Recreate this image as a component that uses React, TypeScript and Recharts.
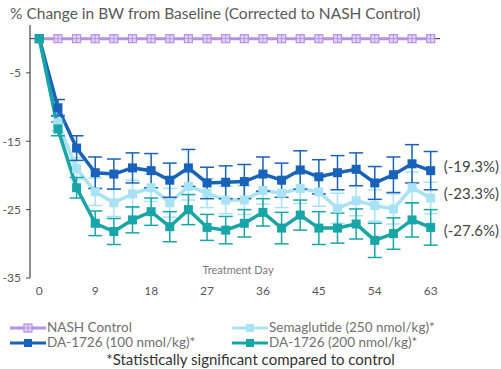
import React from 'react';
import { LineChart, Line, XAxis, YAxis, ErrorBar, ReferenceLine } from 'recharts';

// days measured (every 3rd day)
const days = [0, 3, 6, 9, 12, 15, 18, 21, 24, 27, 30, 33, 36, 39, 42, 45, 48, 51, 54, 57, 60, 63];

const nashControl = [0, 0, 0, 0, 0, 0, 0, 0, 0, 0, 0, 0, 0, 0, 0, 0, 0, 0, 0, 0, 0, 0];
const semaglutide = [0, -12.3, -19.0, -22.4, -24.0, -22.7, -21.8, -24.0, -21.6, -22.6, -23.6, -23.6, -22.2, -22.6, -21.9, -22.4, -24.8, -23.7, -24.4, -24.9, -21.8, -23.3];
const da100 = [0, -10.1, -16.0, -19.6, -19.8, -18.9, -19.3, -20.7, -18.9, -21.1, -21.0, -20.9, -19.8, -20.7, -19.2, -20.2, -19.6, -19.1, -21.1, -19.9, -18.3, -19.3];
const da200 = [0, -13.2, -21.8, -27.0, -28.2, -26.5, -25.3, -27.5, -25.0, -27.6, -28.0, -27.0, -25.4, -27.7, -25.8, -27.7, -27.7, -27.1, -29.5, -28.5, -26.5, -27.6];

// SEM error bars
const semaErr = [0, 1.2, 1.6, 2.0, 2.0, 2.0, 2.0, 2.1, 2.0, 2.1, 2.0, 2.1, 2.0, 2.1, 2.2, 2.1, 2.2, 2.2, 2.3, 2.2, 2.3, 2.3];
const da100Err = [0, 1.2, 1.8, 2.3, 2.2, 2.2, 2.5, 2.5, 2.7, 2.3, 2.4, 2.5, 2.5, 2.5, 2.8, 2.5, 2.5, 2.4, 2.4, 2.6, 2.8, 2.8];
const da200Err = [0, 1.0, 1.5, 1.8, 1.9, 1.9, 2.0, 2.2, 2.2, 1.9, 2.0, 2.0, 2.0, 2.3, 2.2, 2.4, 2.2, 2.2, 2.5, 2.3, 2.5, 2.6];

const xTicks = [0, 9, 18, 27, 36, 45, 54, 63];
const yTicks = [-35, -25, -15, -5];

const endLabels = ['(-19.3%)', '(-23.3%)', '(-27.6%)'];

const PURPLE = '#b592e3';
const LIGHT = '#a8e2f4';
const DARK = '#1862b9';
const TEAL = '#17a5a8';
const FONT = 'Lato, "Open Sans", sans-serif';

const data = days.map((d, i) => ({
    day: d,
    nash: nashControl[i],
    sema: semaglutide[i],
    semaErr: semaErr[i],
    da100: da100[i],
    da100Err: da100Err[i],
    da200: da200[i],
    da200Err: da200Err[i],
}));

const SquareDot = (color: string, size = 8) => (props: any) => {
    const { cx, cy, index } = props;
    if (cx == null || cy == null) return <g key={index} />;
    return <rect key={index} x={cx - size / 2} y={cy - size / 2} width={size} height={size} fill={color} />;
};

const CrossDot = (props: any) => {
    const { cx, cy, index } = props;
    if (cx == null || cy == null) return <g key={index} />;
    return (
        <g key={index}>
            <rect x={cx - 4} y={cy - 4} width={8} height={8} fill="#e2d4f6" stroke={PURPLE} strokeWidth={1.2} />
            <line x1={cx - 4} x2={cx + 4} y1={cy} y2={cy} stroke={PURPLE} strokeWidth={1} />
            <line x1={cx} x2={cx} y1={cy - 4} y2={cy + 4} stroke={PURPLE} strokeWidth={1} />
        </g>
    );
};

const endLabel = (text: string, dy: number) => (props: any) => {
    const { x, y, index } = props;
    if (index !== days.length - 1) return null;
    return (
        <text key="end" x={x + 13} y={y + dy} fontSize={15} fill="#444" fontFamily={FONT} dominantBaseline="middle">
            {text}
        </text>
    );
};

const LegendItem = ({ color, label, cross }: { color: string; label: string; cross?: boolean }) => (
    <div style={{ display: 'flex', alignItems: 'center', height: 13 }}>
        <svg width={37} height={12}>
            <line x1={0} x2={36} y1={6} y2={6} stroke={color} strokeWidth={3} />
            {cross ? (
                <g>
                    <rect x={14} y={2} width={8} height={8} fill="#e2d4f6" stroke={color} strokeWidth={1.2} />
                    <line x1={14} x2={22} y1={6} y2={6} stroke={color} strokeWidth={1} />
                    <line x1={18} x2={18} y1={2} y2={10} stroke={color} strokeWidth={1} />
                </g>
            ) : (
                <rect x={14} y={2} width={8} height={8} fill={color} />
            )}
        </svg>
        <span style={{ fontSize: 13.5, lineHeight: '13px', color: '#707070', fontFamily: FONT, whiteSpace: 'nowrap' }}>{label}</span>
    </div>
);

export default function App() {
    return (
        <div style={{ position: 'absolute', left: 0, top: 0, width: 501, height: 369, background: '#fff', fontFamily: FONT }}>
            <div style={{ position: 'absolute', left: 10, top: 4, fontSize: 15.5, lineHeight: '18px', color: '#595959', whiteSpace: 'nowrap' }}>
                % Change in BW from Baseline (Corrected to NASH Control)
            </div>
            <LineChart
                width={501}
                height={369}
                data={data}
                margin={{ top: 25, right: 61, bottom: 71, left: 0 }}
                style={{ position: 'absolute', left: 0, top: 0 }}
            >
                <XAxis
                    dataKey="day"
                    type="number"
                    domain={[-1.5, 64.5]}
                    ticks={xTicks}
                    axisLine={false}
                    tickLine={false}
                    height={20}
                    tickMargin={2}
                    tick={{ fontSize: 12, fill: '#595959', fontFamily: FONT }}
                />
                <YAxis
                    type="number"
                    domain={[-35, 2]}
                    ticks={yTicks}
                    width={30}
                    axisLine={{ stroke: '#444', strokeWidth: 1.2 }}
                    tickLine={{ stroke: '#444' }}
                    tickSize={4}
                    tickMargin={5}
                    tick={{ fontSize: 12, fill: '#595959', fontFamily: FONT }}
                />
                <ReferenceLine y={0} stroke="#333" strokeWidth={1} />
                <Line
                    dataKey="nash"
                    stroke={PURPLE}
                    strokeWidth={3}
                    dot={CrossDot}
                    activeDot={false}
                    isAnimationActive={false}
                />
                <Line
                    dataKey="sema"
                    stroke={LIGHT}
                    strokeWidth={3.5}
                    dot={SquareDot(LIGHT, 9)}
                    activeDot={false}
                    isAnimationActive={false}
                    label={endLabel(endLabels[1], -3)}
                >
                    <ErrorBar dataKey="semaErr" width={7} stroke={LIGHT} strokeWidth={1.5} direction="y" />
                </Line>
                <Line
                    dataKey="da100"
                    stroke={DARK}
                    strokeWidth={3.5}
                    dot={SquareDot(DARK, 9)}
                    activeDot={false}
                    isAnimationActive={false}
                    label={endLabel(endLabels[0], -2)}
                >
                    <ErrorBar dataKey="da100Err" width={7} stroke={DARK} strokeWidth={1.5} direction="y" />
                </Line>
                <Line
                    dataKey="da200"
                    stroke={TEAL}
                    strokeWidth={3.5}
                    dot={SquareDot(TEAL, 9)}
                    activeDot={false}
                    isAnimationActive={false}
                    label={endLabel(endLabels[2], 5)}
                >
                    <ErrorBar dataKey="da200Err" width={7} stroke={TEAL} strokeWidth={1.5} direction="y" />
                </Line>
            </LineChart>
            <div style={{ position: 'absolute', left: 0, width: 476, top: 263, textAlign: 'center', fontSize: 11, color: '#7a7a7a' }}>
                Treatment Day
            </div>
            <div style={{ position: 'absolute', left: 10, top: 321 }}>
                <LegendItem color={PURPLE} label="NASH Control" cross />
            </div>
            <div style={{ position: 'absolute', left: 232, top: 321 }}>
                <LegendItem color={LIGHT} label="Semaglutide (250 nmol/kg)*" />
            </div>
            <div style={{ position: 'absolute', left: 10, top: 336 }}>
                <LegendItem color={DARK} label="DA-1726 (100 nmol/kg)*" />
            </div>
            <div style={{ position: 'absolute', left: 232, top: 336 }}>
                <LegendItem color={TEAL} label="DA-1726 (200 nmol/kg)*" />
            </div>
            <div style={{ position: 'absolute', left: 0, width: 501, top: 351, lineHeight: '17px', textAlign: 'center', fontSize: 15, color: '#333' }}>
                *Statistically significant compared to control
            </div>
        </div>
    );
}
